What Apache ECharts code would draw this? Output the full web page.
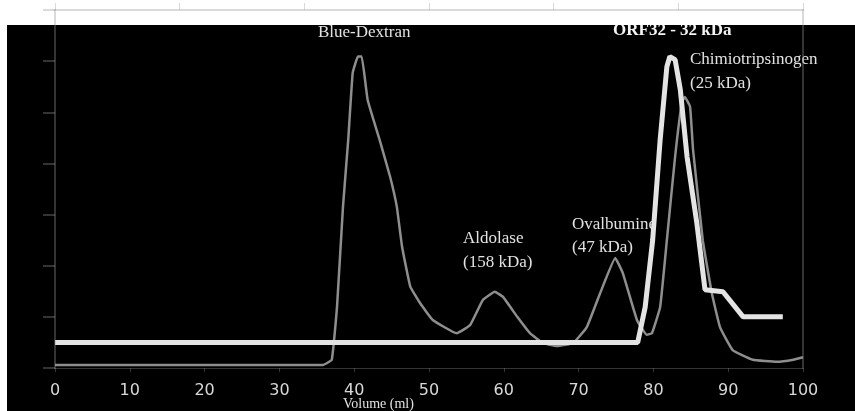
<!doctype html>
<html>
<head>
    <meta charset="utf-8">
    <title>Gel filtration</title>
    <script src="https://cdn.jsdelivr.net/npm/echarts@6/dist/echarts.min.js"></script>
    <style>
        html, body { margin: 0; padding: 0; background: #fff; }
    </style>
</head>
<body>
<div id="main" style="width:855px;height:411px;"></div>
<script>
    // standards (thin grey curve)
    var stdVolume = [0, 35.8, 37.0, 37.7, 38.5, 39.2, 39.8, 40.5, 41.0, 41.8, 43.4, 44.8, 45.7, 46.4, 47.5, 48.8, 50.5,
        53.7, 55.5, 57.2, 58.8, 59.9, 61.8, 63.5, 65.2, 67.1, 69.3, 71.1, 72.9, 74.9, 75.9, 77.8, 79.1, 79.8, 80.9,
        81.8, 82.9, 83.8, 84.2, 84.9, 85.3, 86.6, 87.8, 88.9, 90.6, 93.3, 96.5, 98.7, 100];
    var stdAbs = [0.06, 0.06, 0.16, 1.19, 3.15, 4.46, 5.77, 6.09, 6.09, 5.24, 4.46, 3.74, 3.15, 2.37, 1.59, 1.27, 0.94,
        0.68, 0.84, 1.33, 1.49, 1.39, 1.0, 0.68, 0.49, 0.43, 0.49, 0.8, 1.47, 2.15, 1.86, 0.94, 0.65, 0.68, 1.19,
        2.5, 4.13, 5.19, 5.3, 5.11, 4.27, 2.5, 1.47, 0.8, 0.35, 0.16, 0.12, 0.16, 0.21];

    // ORF32 (thick white curve)
    var orfVolume = [0, 77.9, 78.9, 79.9, 80.9, 81.8, 82.2, 82.9, 83.6, 84.5, 85.8, 86.9, 89.3, 92.0, 97.3];
    var orfAbs = [0.5, 0.5, 1.19, 2.5, 4.46, 5.89, 6.09, 6.03, 5.44, 4.13, 2.84, 1.53, 1.49, 1.0, 1.0];

    var xTicks = [0, 10, 20, 30, 40, 50, 60, 70, 80, 90, 100];

    function zip(a, b) {
        var out = [];
        for (var i = 0; i < a.length; i++) {
            out.push([a[i], b[i]]);
        }
        return out;
    }

    var axisCol = 'rgba(150,150,150,0.35)';
    var labelCol = '#e2e2e2';
    var serif = '"Liberation Serif", "DejaVu Serif", serif';

    // peak names sit under the curves
    function note(txt, x, y, bold) {
        return {
            type: 'text', x: x, y: y, z: 1,
            style: {
                text: txt, fill: bold ? '#f4f4f4' : labelCol,
                font: (bold ? 'bold ' : '') + '17px ' + serif,
                textVerticalAlign: 'middle', verticalAlign: 'middle'
            }
        };
    }

    var chart = echarts.init(document.getElementById('main'));
    chart.setOption({
        backgroundColor: '#000',
        animation: false,
        grid: {left: 55, right: 52, top: 10, bottom: 43},
        xAxis: [{
            type: 'value', min: 0, max: 100, interval: 10, z: 5,
            axisLine: {onZero: false, lineStyle: {color: axisCol, width: 1}},
            axisTick: {show: true, length: 4, lineStyle: {color: axisCol}},
            axisLabel: {
                color: '#d8d8d8', fontSize: 16, fontFamily: 'DejaVu Sans', margin: 15,
                formatter: function (v) { return xTicks.indexOf(v) >= 0 ? String(v) : ''; }
            },
            splitLine: {show: false}
        }, {
            type: 'value', position: 'top', min: 0, max: 100, interval: 100 / 6, z: 5,
            axisLine: {onZero: false, lineStyle: {color: axisCol, width: 2}},
            axisTick: {show: true, length: 7, lineStyle: {color: axisCol}},
            axisLabel: {show: false},
            splitLine: {show: false}
        }],
        yAxis: [{
            type: 'value', min: 0, max: 7, interval: 1, z: 5,
            axisLine: {show: true, onZero: false, lineStyle: {color: axisCol, width: 2}},
            axisTick: {show: true, length: 12, lineStyle: {color: axisCol, width: 2}},
            axisLabel: {show: false},
            splitLine: {show: false}
        }, {
            type: 'value', position: 'right', min: 0, max: 7, z: 5,
            axisLine: {show: true, onZero: false, lineStyle: {color: axisCol, width: 2}},
            axisTick: {show: false},
            axisLabel: {show: false},
            splitLine: {show: false}
        }],
        graphic: [
            {type: 'rect', z: 4, shape: {x: 0, y: 0, width: 855, height: 25}, style: {fill: '#fff'}},
            {type: 'rect', z: 4, shape: {x: 0, y: 0, width: 7, height: 411}, style: {fill: '#fff'}},
            note('Blue-Dextran', 318, 33),
            note('ORF32 - 32 kDa', 613, 31, true),
            note('Chimiotripsinogen', 690, 60),
            note('(25 kDa)', 690, 84),
            note('Aldolase', 463, 239),
            note('(158 kDa)', 463, 263),
            note('Ovalbumine', 572, 225),
            note('(47 kDa)', 572, 248),
            {
                type: 'text', x: 343, y: 404, z: 3,
                style: {
                    text: 'Volume (ml)', fill: labelCol, font: '14px ' + serif,
                    textVerticalAlign: 'middle', verticalAlign: 'middle'
                }
            }
        ],
        series: [{
            name: 'Standards',
            type: 'line',
            data: zip(stdVolume, stdAbs),
            showSymbol: false,
            smooth: 0.1,
            lineStyle: {color: '#8e8e8e', width: 2.5},
            z: 2
        }, {
            name: 'ORF32',
            type: 'line',
            data: zip(orfVolume, orfAbs),
            showSymbol: false,
            lineStyle: {color: '#e4e4e4', width: 5},
            z: 2
        }]
    });
</script>
</body>
</html>
